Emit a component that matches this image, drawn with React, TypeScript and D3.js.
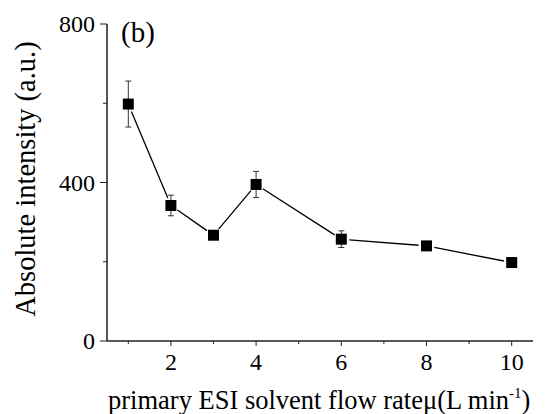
import React from "react";
import * as d3 from "d3";

const flowRates = [1, 2, 3, 4, 6, 8, 10];
const intensities = [598, 342, 267, 395, 257, 240, 198];
const errors = [58, 26, 6, 33, 21, 5, 5];
const xMajorTicks = [2, 4, 6, 8, 10];
const xMinorTicks = [1, 3, 5, 7, 9];
const yMajorTicks = [0, 400, 800];
const yMinorTicks = [200, 600];

const W = 547;
const H = 414;
const FONT = "'Liberation Serif', 'Times New Roman', serif";

export default function App() {
  const x = d3.scaleLinear().domain([0.5, 10.5]).range([107, 533]);
  const y = d3.scaleLinear().domain([0, 800]).range([341, 24]);
  const pts = flowRates.map((f, i) => ({ x: x(f), y: y(intensities[i]), lo: y(intensities[i] - errors[i]), hi: y(intensities[i] + errors[i]) }));
  const gap = 8;
  const segs = pts.slice(1).map((p, i) => {
    const a = pts[i];
    const dx = p.x - a.x, dy = p.y - a.y;
    const len = Math.hypot(dx, dy);
    const ux = dx / len, uy = dy / len;
    return { x1: a.x + ux * gap, y1: a.y + uy * gap, x2: p.x - ux * gap, y2: p.y - uy * gap };
  });
  const ms = 11;
  return (
    <svg width={W} height={H} style={{ position: "absolute", left: 0, top: 0, background: "#fff" }} fontFamily={FONT}>
      <rect width={W} height={H} fill="#fff" />
      {/* axes */}
      <line x1={x(0.5)} x2={x(0.5)} y1={y(800)} y2={y(0)} stroke="#555" strokeWidth={2} />
      <line x1={x(0.5)} x2={x(10.5)} y1={y(0)} y2={y(0)} stroke="#222" strokeWidth={1.5} />
      {yMajorTicks.map((t) => (
        <g key={"ym" + t}>
          <line x1={x(0.5) - 7} x2={x(0.5)} y1={y(t)} y2={y(t)} stroke="#222" strokeWidth={1} />
          <text x={x(0.5) - 12} y={y(t)} dy="0.35em" textAnchor="end" fontSize={24} fill="#000">{t}</text>
        </g>
      ))}
      {yMinorTicks.map((t) => (
        <line key={"yn" + t} x1={x(0.5) - 4} x2={x(0.5)} y1={y(t)} y2={y(t)} stroke="#222" strokeWidth={1} />
      ))}
      {xMajorTicks.map((t) => (
        <g key={"xm" + t}>
          <line x1={x(t)} x2={x(t)} y1={y(0)} y2={y(0) + 5} stroke="#222" strokeWidth={1} />
          <text x={x(t)} y={370} textAnchor="middle" fontSize={24} fill="#000">{t}</text>
        </g>
      ))}
      {xMinorTicks.map((t) => (
        <line key={"xn" + t} x1={x(t)} x2={x(t)} y1={y(0)} y2={y(0) + 3} stroke="#222" strokeWidth={1} />
      ))}
      {/* line */}
      {segs.map((s, i) => (
        <line key={"s" + i} x1={s.x1} y1={s.y1} x2={s.x2} y2={s.y2} stroke="#000" strokeWidth={1.3} />
      ))}
      {/* error bars */}
      {pts.map((p, i) => (
        <g key={"e" + i} stroke="#333" strokeWidth={1}>
          <line x1={p.x} x2={p.x} y1={p.hi} y2={p.lo} />
          <line x1={p.x - 3} x2={p.x + 3} y1={p.hi} y2={p.hi} />
          <line x1={p.x - 3} x2={p.x + 3} y1={p.lo} y2={p.lo} />
        </g>
      ))}
      {pts.map((p, i) => (
        <rect key={"m" + i} x={p.x - ms / 2} y={p.y - ms / 2} width={ms} height={ms} fill="#000" />
      ))}
      <text x={121} y={42} fontSize={29} fill="#000">(b)</text>
      <text transform={`translate(35, 179) rotate(-90)`} textAnchor="middle" fontSize={28.5} fill="#000">Absolute intensity (a.u.)</text>
      <text x={108} y={409} fontSize={26.5} fill="#000">
        {"primary ESI solvent flow rateμ(L min"}
        <tspan dy={-11} fontSize={15}>-1</tspan>
        <tspan dy={11}>)</tspan>
      </text>
    </svg>
  );
}
